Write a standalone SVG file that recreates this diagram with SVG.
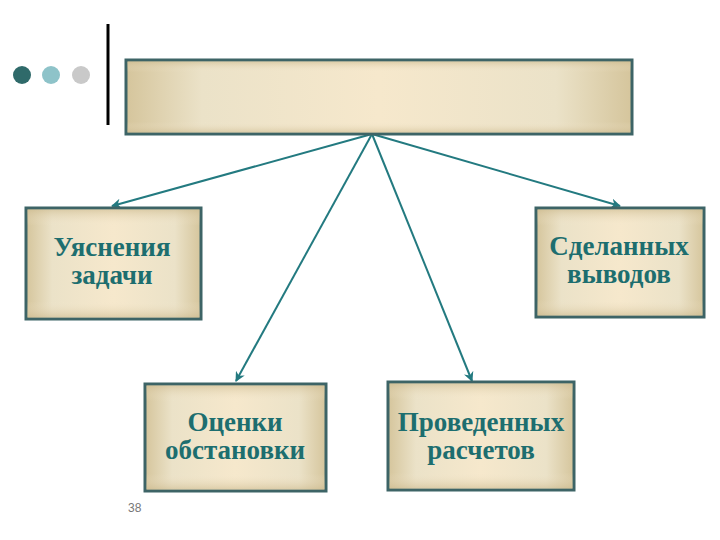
<svg xmlns="http://www.w3.org/2000/svg" width="720" height="540" viewBox="0 0 720 540">
<defs>
<linearGradient id="gh" x1="0" y1="0" x2="1" y2="0">
<stop offset="0" stop-color="#d5c59c"/>
<stop offset="0.15" stop-color="#ebe2c8"/>
<stop offset="0.5" stop-color="#f6e8cc"/>
<stop offset="0.85" stop-color="#ebe2c8"/>
<stop offset="1" stop-color="#d5c59c"/>
</linearGradient>
<linearGradient id="gv" x1="0" y1="0" x2="0" y2="1">
<stop offset="0" stop-color="#cdbb90" stop-opacity="0.6"/>
<stop offset="0.15" stop-color="#f4e8cf" stop-opacity="0"/>
<stop offset="0.85" stop-color="#f4e8cf" stop-opacity="0"/>
<stop offset="1" stop-color="#cdbb90" stop-opacity="0.6"/>
</linearGradient>
<marker id="ah" viewBox="0 0 10 10" refX="9" refY="5" markerWidth="5" markerHeight="5" orient="auto">
<path d="M0,0 L10,5 L0,10 L3,5 Z" fill="#237a80"/>
</marker>
</defs>
<style>
.box{fill:url(#gh);stroke:#3d6466;stroke-width:3}
.ov{fill:url(#gv);stroke:none}
.lbl{font-family:"Liberation Serif","Times New Roman",serif;font-weight:bold;font-size:27px;fill:#1d6e6f;text-anchor:middle}
.con{stroke:#237a80;stroke-width:2;fill:none;marker-end:url(#ah)}
</style>
<rect width="720" height="540" fill="#ffffff"/>
<g id="decor">
<circle cx="22" cy="75" r="9" fill="#2f6a6a"/>
<circle cx="51" cy="75" r="9" fill="#8ec3c9"/>
<circle cx="81" cy="75" r="9" fill="#c9c9c9"/>
<line x1="108" y1="24" x2="108" y2="125" stroke="#000" stroke-width="3"/>
<text x="128" y="512" font-family="Liberation Sans, Arial, sans-serif" font-size="12" fill="#777">38</text>
</g>
<g id="connectors">
<line class="con" x1="372" y1="134" x2="112" y2="206"/>
<line class="con" x1="372" y1="134" x2="236" y2="381"/>
<line class="con" x1="372" y1="134" x2="472" y2="381"/>
<line class="con" x1="372" y1="134" x2="620" y2="206"/>
</g>
<g id="top">
<rect class="box" x="126" y="60" width="506" height="74"/>
<rect class="ov" x="127.5" y="61.5" width="503" height="71"/>
</g>
<g id="n1">
<rect class="box" x="26" y="208" width="175" height="111"/>
<rect class="ov" x="27.5" y="209.5" width="172" height="108"/>
<text class="lbl" x="112" y="256">Уяснения</text>
<text class="lbl" x="112" y="284">задачи</text>
</g>
<g id="n2">
<rect class="box" x="536" y="208" width="168" height="109"/>
<rect class="ov" x="537.5" y="209.5" width="165" height="106"/>
<text class="lbl" x="619" y="255">Сделанных</text>
<text class="lbl" x="619" y="283">выводов</text>
</g>
<g id="n3">
<rect class="box" x="145" y="384" width="181" height="107"/>
<rect class="ov" x="146.5" y="385.5" width="178" height="104"/>
<text class="lbl" x="235" y="431">Оценки</text>
<text class="lbl" x="235" y="459">обстановки</text>
</g>
<g id="n4">
<rect class="box" x="388" y="382" width="186" height="108"/>
<rect class="ov" x="389.5" y="383.5" width="183" height="105"/>
<text class="lbl" x="481" y="431">Проведенных</text>
<text class="lbl" x="481" y="459">расчетов</text>
</g>
</svg>
